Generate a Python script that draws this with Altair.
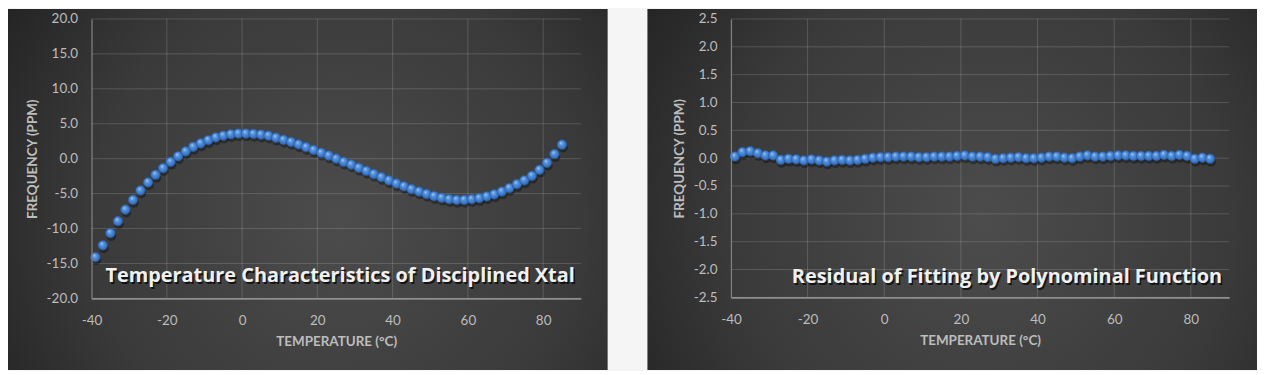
import altair as alt
import pandas as pd

# ---------------- data ----------------
temperature = [-39, -37, -35, -33, -31, -29, -27, -25, -23, -21, -19, -17, -15, -13, -11, -9,
               -7, -5, -3, -1, 1, 3, 5, 7, 9, 11, 13, 15, 17, 19, 21, 23, 25, 27, 29, 31,
               33, 35, 37, 39, 41, 43, 45, 47, 49, 51, 53, 55, 57, 59, 61, 63, 65, 67, 69,
               71, 73, 75, 77, 79, 81, 83, 85]

frequency = [-14.1, -12.4, -10.65, -8.95, -7.3, -5.9, -4.55, -3.4, -2.3, -1.35, -0.45, 0.35,
             1.05, 1.7, 2.2, 2.65, 3.05, 3.3, 3.5, 3.6, 3.6, 3.55, 3.45, 3.3, 3.0, 2.7, 2.4,
             2.05, 1.65, 1.25, 0.85, 0.45, 0.0, -0.45, -0.85, -1.3, -1.75, -2.2, -2.65, -3.1,
             -3.55, -3.95, -4.35, -4.7, -5.05, -5.35, -5.6, -5.8, -5.9, -5.9, -5.8, -5.65,
             -5.4, -5.1, -4.7, -4.2, -3.65, -3.1, -2.45, -1.6, -0.6, 0.65, 2.0]

residual = [0.03, 0.11, 0.125, 0.09, 0.05, 0.05, -0.03, -0.01, -0.02, -0.04, -0.02, -0.04,
            -0.06, -0.04, -0.03, -0.04, -0.03, -0.01, 0.01, 0.02, 0.02, 0.03, 0.03, 0.03,
            0.02, 0.02, 0.03, 0.03, 0.03, 0.04, 0.05, 0.03, 0.03, 0.02, -0.01, 0.0, 0.01,
            0.02, 0.0, 0.0, 0.01, 0.03, 0.03, 0.01, 0.0, 0.03, 0.05, 0.03, 0.03, 0.04, 0.05,
            0.05, 0.04, 0.04, 0.04, 0.04, 0.06, 0.04, 0.06, 0.04, -0.01, 0.01, -0.01]

x_ticks = [-40, -20, 0, 20, 40, 60, 80]
y_ticks_left = [-20, -15, -10, -5, 0, 5, 10, 15, 20]
y_ticks_right = [-2.5, -2.0, -1.5, -1.0, -0.5, 0.0, 0.5, 1.0, 1.5, 2.0, 2.5]

title_left = "Temperature Characteristics of Disciplined Xtal"
title_right = "Residual of Fitting by Polynominal Function"
x_title = "TEMPERATURE (°C)"
y_title = "FREQUENCY (PPM)"

# ---------------- styles ----------------
LABEL_COLOR = "#bdbdbd"
AXIS_FONT = "Lato"

panel_fill = alt.Gradient(
    gradient="radial",
    x1=0.55, y1=0.55, r1=0.0,
    x2=0.55, y2=0.55, r2=0.75,
    stops=[
        alt.GradientStop(offset=0.0, color="#4c4c4c"),
        alt.GradientStop(offset=0.55, color="#3a3a3a"),
        alt.GradientStop(offset=1.0, color="#1c1c1c"),
    ],
)

bead_fill = alt.Gradient(
    gradient="radial",
    x1=0.38, y1=0.3, r1=0.0,
    x2=0.5, y2=0.5, r2=0.55,
    stops=[
        alt.GradientStop(offset=0.0, color="#b9d6f6"),
        alt.GradientStop(offset=0.3, color="#5c98df"),
        alt.GradientStop(offset=0.8, color="#3470c2"),
        alt.GradientStop(offset=1.0, color="#25569b"),
    ],
)

MINUS_FIX = "replace(datum.label, '\u2212', '-')"


def panel(values, ydom, yticks, yfmt, title, w, h, bg, tx, ty):
    df = pd.DataFrame({"t": temperature, "v": values})
    one = pd.DataFrame({"k": [0]})
    xs = alt.Scale(domain=[-40, 90], nice=False, zero=False)
    ys = alt.Scale(domain=ydom, nice=False, zero=False)

    x_axis = alt.Axis(
        values=x_ticks, format="d", labelExpr=MINUS_FIX, grid=False, ticks=False,
        domain=True, domainColor="#8e8e8e", domainWidth=1.6,
        labelColor=LABEL_COLOR, labelFont=AXIS_FONT, labelFontSize=13.5,
        labelPadding=15, labelFlush=False,
        title=x_title, titleColor=LABEL_COLOR, titleFont=AXIS_FONT,
        titleFontSize=13.5, titleFontWeight="bold", titlePadding=8, zindex=1,
    )
    y_axis = alt.Axis(
        values=yticks, format=yfmt, labelExpr=MINUS_FIX, grid=False, ticks=False,
        domain=True, domainColor="#7e7e7e", domainWidth=1.3,
        labelColor=LABEL_COLOR, labelFont=AXIS_FONT, labelFontSize=13.5,
        labelPadding=14, labelFlush=False,
        title=y_title, titleColor=LABEL_COLOR, titleFont=AXIS_FONT,
        titleFontSize=13.5, titleFontWeight="bold", titlePadding=7, zindex=1,
    )

    background = alt.Chart(one).mark_rect(color=panel_fill).encode(
        x=alt.value(-bg[0]), x2=alt.value(w + bg[1]),
        y=alt.value(-bg[2]), y2=alt.value(h + bg[3]),
    )

    vgrid = alt.Chart(pd.DataFrame({"t": x_ticks[1:]})).mark_rule(
        color="#ffffff", opacity=0.16, strokeWidth=1
    ).encode(x=alt.X("t:Q", scale=xs, axis=x_axis))

    hgrid = alt.Chart(pd.DataFrame({"v": yticks})).mark_rule(
        color="#ffffff", opacity=0.16, strokeWidth=1
    ).encode(y=alt.Y("v:Q", scale=ys, axis=y_axis))

    shadow = alt.Chart(df).mark_circle(size=95, color="#000000", opacity=0.35).encode(
        x=alt.X("t:Q", scale=xs, axis=x_axis),
        y=alt.Y("v:Q", scale=ys, axis=y_axis),
        xOffset=alt.value(1),
        yOffset=alt.value(3),
    )

    beads = alt.Chart(df).mark_circle(
        size=95, color=bead_fill, opacity=1, stroke="#2a5e9f", strokeWidth=0.4
    ).encode(
        x=alt.X("t:Q", scale=xs, axis=x_axis),
        y=alt.Y("v:Q", scale=ys, axis=y_axis),
    )

    text_shadow = alt.Chart(one).mark_text(
        align="right", baseline="middle", font="Open Sans", fontSize=20,
        fontWeight="bold", color="#000000", opacity=0.7, dx=1.5, dy=1.5,
    ).encode(x=alt.value(tx), y=alt.value(ty), text=alt.value(title))

    text = alt.Chart(one).mark_text(
        align="right", baseline="middle", font="Open Sans", fontSize=20,
        fontWeight="bold", color="#f0f0f0",
    ).encode(x=alt.value(tx), y=alt.value(ty), text=alt.value(title))

    return alt.layer(background, vgrid, hgrid, shadow, beads, text_shadow, text).properties(
        width=w, height=h
    )


left = panel(frequency, [-20, 20], y_ticks_left, ".1f", title_left,
             492, 281, (84, 27, 10, 72), 486, 259)
right = panel(residual, [-2.5, 2.5], y_ticks_right, ".1f", title_right,
              501, 280, (84, 28, 10, 73), 494, 260)

chart = alt.hconcat(left, right, spacing=40).properties(
    padding=0, background="#f5f5f5"
).configure_view(strokeWidth=0)

chart.save("out.html", embed_options={"renderer": "svg", "actions": False})
